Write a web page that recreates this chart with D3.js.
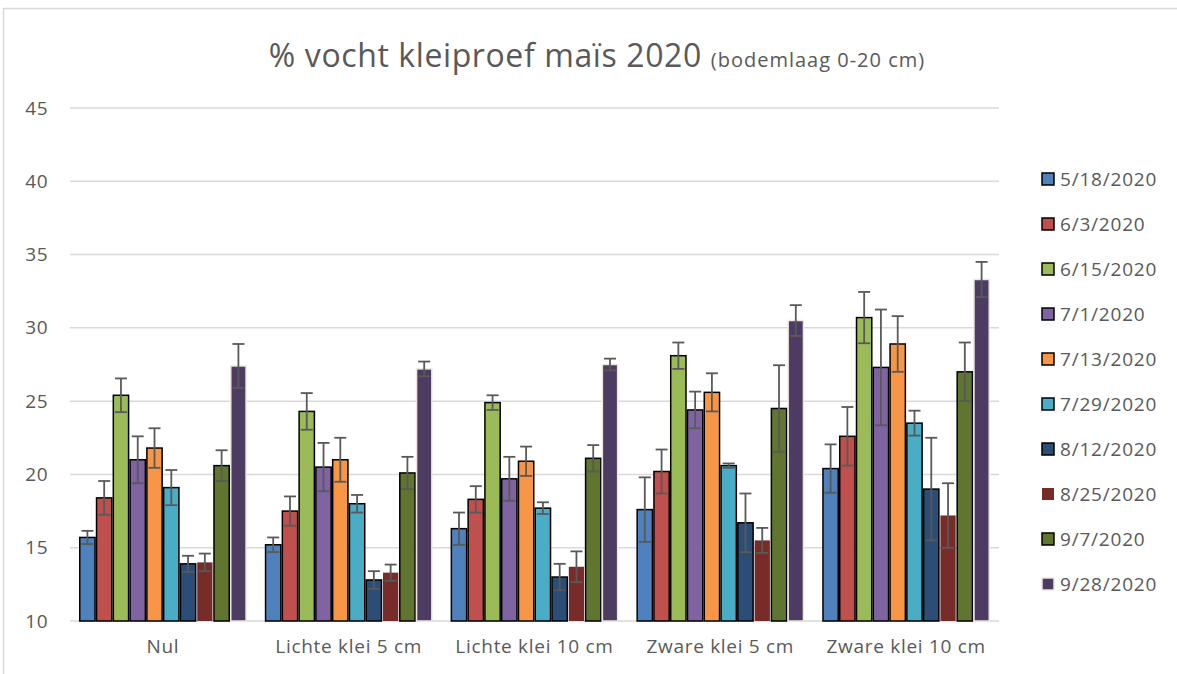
<!DOCTYPE html>
<html>
<head>
<meta charset="utf-8">
<script src="https://cdn.jsdelivr.net/npm/d3@7"></script>
<style>
  body { margin: 0; background: #fff; }
  text { font-family: "Open Sans", sans-serif; fill: #595959; }
</style>
</head>
<body>
<div id="main"></div>
<script>
// data
var groups = ['Nul', 'Lichte klei 5 cm', 'Lichte klei 10 cm', 'Zware klei 5 cm', 'Zware klei 10 cm'];
var dates = ['5/18/2020', '6/3/2020', '6/15/2020', '7/1/2020', '7/13/2020',
             '7/29/2020', '8/12/2020', '8/25/2020', '9/7/2020', '9/28/2020'];
var colors = ['#4F81BD', '#C0504D', '#9BBB59', '#8064A2', '#F79646',
              '#4BACC6', '#2C4D75', '#772C2A', '#5F7530', '#4D3B62'];
var borders = ['#000', '#000', '#000', '#000', '#000', '#000', '#000', 'none', '#000', '#ece8df'];

// mean per date (rows) for each group (columns)
var means = [
  [15.7, 15.2, 16.3, 17.6, 20.4],
  [18.4, 17.5, 18.3, 20.2, 22.6],
  [25.4, 24.3, 24.9, 28.1, 30.7],
  [21.0, 20.5, 19.7, 24.4, 27.3],
  [21.8, 21.0, 20.9, 25.6, 28.9],
  [19.1, 18.0, 17.7, 20.6, 23.5],
  [13.9, 12.8, 13.0, 16.7, 19.0],
  [14.0, 13.3, 13.7, 15.5, 17.2],
  [20.6, 20.1, 21.1, 24.5, 27.0],
  [27.4, 27.2, 27.5, 30.5, 33.3]
];
// error bar half-lengths
var errs = [
  [0.45, 0.5, 1.1, 2.2, 1.65],
  [1.15, 1.0, 0.9, 1.5, 2.0],
  [1.15, 1.25, 0.5, 0.9, 1.75],
  [1.6, 1.65, 1.5, 1.25, 3.95],
  [1.35, 1.5, 1.0, 1.3, 1.9],
  [1.2, 0.6, 0.4, 0.15, 0.85],
  [0.55, 0.6, 0.9, 2.0, 3.5],
  [0.6, 0.55, 1.05, 0.85, 2.2],
  [1.05, 1.1, 0.9, 2.95, 2.0],
  [1.5, 0.5, 0.4, 1.05, 1.2]
];
var yTicks = [10, 15, 20, 25, 30, 35, 40, 45];

var W = 1177, H = 674;
var plotL = 70, plotR = 999, plotT = 108, plotB = 621;

var svg = d3.select('#main').append('svg')
  .attr('width', W).attr('height', H);

// chart frame
svg.append('rect')
  .attr('x', 3.5).attr('y', 8.5).attr('width', W).attr('height', H)
  .attr('fill', 'none').attr('stroke', '#d9d9d9').attr('stroke-width', 1.5);

var y = d3.scaleLinear().domain([10, 45]).range([plotB, plotT]);
var x0 = d3.scaleBand().domain(groups).range([plotL, plotR])
  .paddingInner(0.097).paddingOuter(0.0485);
var x1 = d3.scaleBand().domain(dates).range([0, x0.bandwidth()]);

// gridlines
svg.append('g').selectAll('line').data(yTicks).join('line')
  .attr('x1', plotL).attr('x2', plotR)
  .attr('y1', function(d) { return y(d); }).attr('y2', function(d) { return y(d); })
  .attr('stroke', '#d9d9d9').attr('stroke-width', 1.5);

// y axis labels
var yAxis = d3.axisLeft(y).tickValues(yTicks).tickSize(0).tickPadding(0);
var gy = svg.append('g').attr('transform', 'translate(48,0)').call(yAxis);
gy.select('.domain').remove();
gy.selectAll('text').style('font-size', '19px').attr('fill', '#595959')
  .style('letter-spacing', '0.5px')
  .style('font-family', '"Open Sans", sans-serif');

// x axis labels
var xAxis = d3.axisBottom(x0).tickSize(0).tickPadding(0);
var gx = svg.append('g').attr('transform', 'translate(0,' + (plotB + 18) + ')').call(xAxis);
gx.select('.domain').remove();
gx.selectAll('text').style('font-size', '19px').attr('fill', '#595959')
  .style('letter-spacing', '0.7px')
  .style('font-family', '"Open Sans", sans-serif');

// bars
var series = svg.append('g').selectAll('g').data(dates).join('g');
series.each(function(date, i) {
  var g = d3.select(this);
  groups.forEach(function(grp, j) {
    var v = means[i][j];
    g.append('rect')
      .attr('x', x0(grp) + x1(date) + 0.75)
      .attr('y', y(v))
      .attr('width', x1.bandwidth() - 1.5)
      .attr('height', y(10) - y(v))
      .attr('fill', colors[i])
      .attr('stroke', borders[i])
      .attr('stroke-width', 1.5);
  });
});

// error bars
var eb = svg.append('g').attr('stroke', '#595959').attr('stroke-width', 1.8);
dates.forEach(function(date, i) {
  groups.forEach(function(grp, j) {
    var cx = x0(grp) + x1(date) + x1.bandwidth() / 2;
    var lo = y(means[i][j] - errs[i][j]), hi = y(means[i][j] + errs[i][j]);
    eb.append('line').attr('x1', cx).attr('x2', cx).attr('y1', lo).attr('y2', hi);
    eb.append('line').attr('x1', cx - 6).attr('x2', cx + 6).attr('y1', lo).attr('y2', lo);
    eb.append('line').attr('x1', cx - 6).attr('x2', cx + 6).attr('y1', hi).attr('y2', hi);
  });
});

// title
var title = svg.append('text')
  .attr('x', 597).attr('y', 67).attr('text-anchor', 'middle');
title.append('tspan').style('font-size', '32px').style('letter-spacing', '0.6px')
  .text('% vocht kleiproef maïs 2020 ');
title.append('tspan').style('font-size', '20px').style('letter-spacing', '1px')
  .text('(bodemlaag 0-20 cm)');

// legend
var legend = svg.append('g').selectAll('g').data(dates).join('g')
  .attr('transform', function(d, i) { return 'translate(1042,' + (179 + i * 45) + ')'; });
legend.append('rect')
  .attr('x', 0).attr('y', -6).attr('width', 12).attr('height', 12)
  .attr('fill', function(d, i) { return colors[i]; })
  .attr('stroke', function(d, i) { return borders[i]; })
  .attr('stroke-width', 1.5);
legend.append('text')
  .attr('x', 18).attr('y', 0).attr('dy', '0.35em')
  .style('font-size', '19px').style('letter-spacing', '0.8px')
  .text(function(d) { return d; });
</script>
</body>
</html>
